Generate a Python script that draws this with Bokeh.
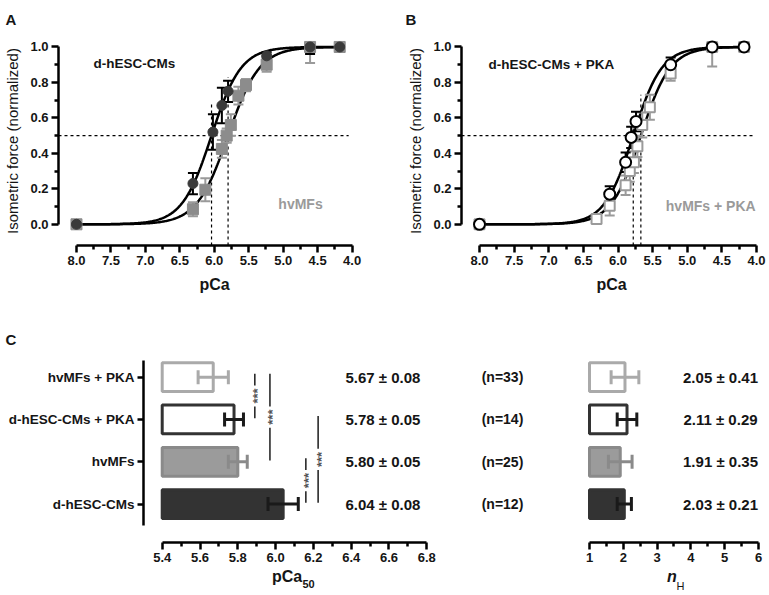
import numpy as np
from bokeh.plotting import figure
from bokeh.models import Range1d, FixedTicker, NumeralTickFormatter, Title
from bokeh.layouts import row, column
from bokeh.core.properties import value
from bokeh.embed import file_html
from bokeh.resources import INLINE

FONT = "Liberation Sans"

# ---------------- data ----------------
# Panel A (no PKA): pCa, normalized force, SEM
a_dh_pca = [8.00, 6.31, 6.02, 5.89, 5.80, 5.24, 4.61, 4.18]
a_dh_force = [0.00, 0.23, 0.52, 0.67, 0.75, 0.95, 1.00, 1.00]
a_dh_sem = [0.00, 0.06, 0.10, 0.10, 0.06, 0.02, 0.04, 0.00]
a_hv_pca = [8.00, 6.31, 6.13, 5.89, 5.82, 5.76, 5.65, 5.54, 5.24, 4.61, 4.18]
a_hv_force = [0.00, 0.085, 0.195, 0.425, 0.50, 0.56, 0.725, 0.785, 0.90, 1.00, 1.00]
a_hv_sem = [0.00, 0.04, 0.065, 0.05, 0.04, 0.06, 0.05, 0.035, 0.04, 0.09, 0.00]

# Panel B (+ PKA)
b_dh_pca = [8.00, 6.12, 5.89, 5.81, 5.74, 5.24, 4.64, 4.18]
b_dh_force = [0.00, 0.17, 0.35, 0.49, 0.58, 0.90, 1.00, 1.00]
b_dh_sem = [0.00, 0.045, 0.055, 0.06, 0.055, 0.04, 0.02, 0.00]
b_hv_pca = [8.00, 6.31, 6.12, 5.89, 5.83, 5.77, 5.72, 5.65, 5.54, 5.24, 4.64, 4.18]
b_hv_force = [0.00, 0.03, 0.105, 0.22, 0.30, 0.35, 0.44, 0.56, 0.66, 0.85, 1.00, 1.00]
b_hv_sem = [0.00, 0.02, 0.055, 0.055, 0.06, 0.06, 0.06, 0.07, 0.07, 0.04, 0.11, 0.00]

# Panel C (bottom row first)
groups = ["d-hESC-CMs", "hvMFs", "d-hESC-CMs + PKA", "hvMFs + PKA"]
pca50 = [6.04, 5.80, 5.78, 5.67]
pca50_sem = [0.08, 0.05, 0.05, 0.08]
hill_n = [2.03, 1.91, 2.11, 2.05]
hill_n_sem = [0.21, 0.35, 0.29, 0.41]
n_cells = [12, 25, 14, 33]

# tops of the dashed pCa50 guide lines
a_guide_top = [0.675, 0.83]
b_guide_top = [0.58, 0.73]

# significance brackets (***) between groups
sig_from = [2, 1, 0, 0]
sig_to = [3, 3, 1, 2]
sig_x = [5.89, 5.97, 6.16, 6.225]

# tick values
force_ticks = [0.0, 0.2, 0.4, 0.6, 0.8, 1.0]
force_minor = [0.1, 0.3, 0.5, 0.7, 0.9]
pca_ticks = [8.0, 7.5, 7.0, 6.5, 6.0, 5.5, 5.0, 4.5, 4.0]
pca_minor = [7.75, 7.25, 6.75, 6.25, 5.75, 5.25, 4.75, 4.25]
p50_ticks = [5.4, 5.6, 5.8, 6.0, 6.2, 6.4, 6.6, 6.8]
p50_minor = [5.5, 5.7, 5.9, 6.1, 6.3, 6.5, 6.7]
nh_ticks = [1, 2, 3, 4, 5, 6]
nh_minor = [1.5, 2.5, 3.5, 4.5, 5.5]

# ---------------- styles ----------------
DARK = "#3a3a3a"
GRAY = "#8c8c8c"
LGRAY = "#9a9a9a"
TXT = "#151515"
bar_fill = ["#333333", "#9b9b9b", "white", "white"]
bar_line = ["#333333", "#8a8a8a", "#333333", "#aaaaaa"]
err_col = ["#1a1a1a", "#8a8a8a", "#1a1a1a", "#aaaaaa"]


def style(p):
    for ax in p.axis:
        ax.axis_line_width = 2.5
        ax.axis_line_color = "black"
        ax.major_tick_line_width = 2.5
        ax.minor_tick_line_width = 2.5
        ax.major_tick_line_color = "black"
        ax.minor_tick_line_color = "black"
        ax.major_tick_out = 7
        ax.major_tick_in = 0
        ax.minor_tick_out = 4
        ax.minor_tick_in = 0
        ax.major_label_text_font = FONT
        ax.major_label_text_font_style = "bold"
        ax.major_label_text_font_size = "13px"
        ax.major_label_text_color = TXT
        ax.major_label_standoff = 3
        ax.axis_label_text_font = FONT
        ax.axis_label_text_color = TXT
    p.grid.visible = False
    p.outline_line_color = None
    p.background_fill_color = "white"
    p.border_fill_color = "white"


def letter(p, t, offset, standoff):
    p.title.text = t
    p.title.align = "left"
    p.title.offset = offset
    p.title.standoff = standoff
    p.title.text_font = FONT
    p.title.text_font_size = "15px"
    p.title.text_font_style = "bold"
    p.title.text_color = TXT


def subscript(p, t, offset, standoff, font_style="bold"):
    p.add_layout(Title(text=t, align="left", vertical_align="top", offset=offset,
                       standoff=standoff, text_font=FONT, text_font_size="11px",
                       text_font_style=font_style, text_color=TXT), "below")


def txt(p, x, y, t, size, color=TXT, align="left", style_="bold", **kw):
    p.text(x=x, y=y, text=t, text_font=value(FONT), text_font_size=size,
           text_font_style=style_, text_color=color, text_align=align,
           text_baseline="middle", **kw)


def errbars_v(p, x, y, e, color, cap, lw):
    x = np.asarray(x, float)
    y = np.asarray(y, float)
    e = np.asarray(e, float)
    lo = y - e
    hi = np.minimum(y + e, 1.0)
    p.segment(x0=x, y0=lo, x1=x, y1=hi, line_color=color, line_width=lw)
    p.scatter(x=np.r_[x, x], y=np.r_[lo, hi], marker="dash", size=cap,
              line_color=color, line_width=lw)


def hill(xs, p50, n):
    return 1.0 / (1.0 + 10 ** (n * (xs - p50)))


TOP_H = 310
Y0, Y1 = -0.1195, 1.059


def sigmoid_panel(width, left, right, x0, x1, let, let_off, dh, hv, fit_idx,
                  guide_top, pka, dh_text, hv_text, dh_text_x, hv_text_x, dh_text_y, hv_text_y):
    p = figure(width=width, height=TOP_H, x_range=Range1d(x0, x1), y_range=Range1d(Y0, Y1),
               output_backend="svg", toolbar_location=None,
               min_border_left=left, min_border_right=right, min_border_top=35,
               min_border_bottom=TOP_H - 35 - 210)
    style(p)
    letter(p, let, let_off, 17)
    p.xaxis.bounds = (4.0, 8.0)
    p.yaxis.bounds = (0.0, 1.0)
    p.xaxis.ticker = FixedTicker(ticks=pca_ticks, minor_ticks=pca_minor)
    p.yaxis.ticker = FixedTicker(ticks=force_ticks, minor_ticks=force_minor)
    p.xaxis.formatter = NumeralTickFormatter(format="0.0")
    p.yaxis.formatter = NumeralTickFormatter(format="0.0")
    p.xaxis.axis_label = "pCa"
    p.xaxis.axis_label_text_font_style = "bold"
    p.xaxis.axis_label_text_font_size = "16px"
    p.xaxis.axis_label_standoff = 8
    p.yaxis.axis_label = "Isometric force (normalized)"
    p.yaxis.axis_label_text_font_style = "normal"
    p.yaxis.axis_label_text_font_size = "15px"
    p.yaxis.axis_label_standoff = 6

    # guides
    p50s = [pca50[i] for i in fit_idx]
    p.segment(x0=[x0], y0=[0.5], x1=[4.05], y1=[0.5], line_color="black",
              line_width=1.2, line_dash="3 3")
    p.segment(x0=p50s, y0=[Y0] * 2, x1=p50s, y1=guide_top, line_color="black",
              line_width=1.2, line_dash="3 3")

    # fitted Hill curves
    for (pc, _, _), i in zip([dh, hv], fit_idx):
        xs = np.linspace(max(pc), min(pc), 300)
        p.line(xs, hill(xs, pca50[i], hill_n[i]), line_color="black", line_width=2.5)

    hx, hy, he = hv
    dx, dy, de = dh
    errbars_v(p, hx, hy, he, LGRAY, 10, 2)
    errbars_v(p, dx, dy, de, "black", 10, 2)
    if pka:
        p.scatter(hx, hy, marker="square", size=10, fill_color="white",
                  line_color=LGRAY, line_width=2)
        p.scatter(dx, dy, marker="circle", size=11, fill_color="white",
                  line_color="black", line_width=2)
    else:
        p.scatter(hx, hy, marker="square", size=11, fill_color=GRAY,
                  line_color=GRAY, line_width=1)
        p.scatter(dx, dy, marker="circle", size=10, fill_color=DARK,
                  line_color=DARK, line_width=1)

    txt(p, [dh_text_x], [dh_text_y], [dh_text], "13.5px")
    txt(p, [hv_text_x], [hv_text_y], [hv_text], "14px", color=LGRAY)
    return p


pA = sigmoid_panel(380, 58, 10, 8.261, 3.733, "A", -53,
                   (a_dh_pca, a_dh_force, a_dh_sem), (a_hv_pca, a_hv_force, a_hv_sem),
                   [0, 1], a_guide_top, False,
                   groups[0], groups[1], 7.753, 5.07, 0.905, 0.116)
pB = sigmoid_panel(388, 81, 7, 8.26, 3.928, "B", -56,
                   (b_dh_pca, b_dh_force, b_dh_sem), (b_hv_pca, b_hv_force, b_hv_sem),
                   [2, 3], b_guide_top, True,
                   groups[2], groups[3], 7.87, 5.31, 0.90, 0.105)

# ---------------- Panel C ----------------
BOT_H = 284
C_TOP, C_BOT = 44, 52
CY0, CY1 = -0.91, 3.537
rows = list(range(len(groups)))
BAR_H = 0.68

# left: pCa50 bars (frame 143..430 px)
pC1 = figure(width=440, height=BOT_H, x_range=Range1d(5.301, 6.8196), y_range=Range1d(CY0, CY1),
             output_backend="svg", toolbar_location=None,
             min_border_left=143, min_border_right=10, min_border_top=C_TOP,
             min_border_bottom=C_BOT)
style(pC1)
letter(pC1, "C", -138, 14)
pC1.xaxis.bounds = (5.4, 6.8)
pC1.xaxis.ticker = FixedTicker(ticks=p50_ticks, minor_ticks=p50_minor)
pC1.xaxis.formatter = NumeralTickFormatter(format="0.0")
pC1.xaxis.axis_label = "pCa"
pC1.xaxis.axis_label_text_font_style = "bold"
pC1.xaxis.axis_label_text_font_size = "16px"
pC1.xaxis.axis_label_standoff = 3
pC1.yaxis.bounds = (-0.5, 3.4)
pC1.yaxis.ticker = FixedTicker(ticks=rows, minor_ticks=[])
pC1.yaxis.major_label_overrides = {r: g for r, g in zip(rows, groups)}
pC1.yaxis.major_label_text_font_size = "13.5px"
pC1.yaxis.major_tick_out = 6
subscript(pC1, "50", 159, -16)

pC1.hbar(y=rows, left=5.4, right=pca50, height=BAR_H, fill_color=bar_fill,
         line_color=bar_line, line_width=3)
lo = [v - e for v, e in zip(pca50, pca50_sem)]
hi = [v + e for v, e in zip(pca50, pca50_sem)]
pC1.segment(x0=lo, y0=rows, x1=hi, y1=rows, line_color=err_col, line_width=3)
pC1.scatter(x=lo + hi, y=rows + rows, marker="dash", angle=np.pi / 2, size=14,
            line_color=err_col + err_col, line_width=3)

# significance lines with rotated ***
GAP = 0.25
for xs_, r0, r1 in zip(sig_x, sig_from, sig_to):
    y0 = r0 + 0.03
    y1 = r1 + 0.08
    yc = (y0 + y1) / 2
    pC1.segment(x0=[xs_, xs_], y0=[y0, yc + GAP], x1=[xs_, xs_], y1=[yc - GAP, y1],
                line_color="#2a2a2a", line_width=1.6)
    txt(pC1, [xs_], [yc], ["***"], "13px", color="#555555", align="center",
        angle=np.pi / 2, x_offset=3)

txt(pC1, [6.568] * 4, rows, [f"{v:.2f} \u00b1 {e:.2f}" for v, e in zip(pca50, pca50_sem)],
    "15px", align="center")

# middle: cell counts
pCm = figure(width=130, height=BOT_H, x_range=Range1d(0, 1), y_range=Range1d(CY0, CY1),
             output_backend="svg", toolbar_location=None, x_axis_location=None,
             y_axis_location=None, min_border_left=0, min_border_right=0,
             min_border_top=C_TOP, min_border_bottom=C_BOT)
style(pCm)
txt(pCm, [0.477] * 4, rows, [f"(n={n})" for n in n_cells], "14px", align="center")

# right: Hill coefficient bars
pC2 = figure(width=198, height=BOT_H, x_range=Range1d(0.586, 6.296), y_range=Range1d(CY0, CY1),
             output_backend="svg", toolbar_location=None, y_axis_location=None,
             min_border_left=5, min_border_right=0, min_border_top=C_TOP,
             min_border_bottom=C_BOT)
style(pC2)
pC2.xaxis.bounds = (1, 6)
pC2.xaxis.ticker = FixedTicker(ticks=nh_ticks, minor_ticks=nh_minor)
pC2.xaxis.formatter = NumeralTickFormatter(format="0")
pC2.xaxis.axis_label = "n"
pC2.xaxis.axis_label_text_font_style = "bold italic"
pC2.xaxis.axis_label_text_font_size = "16px"
pC2.xaxis.axis_label_standoff = 3
subscript(pC2, "H", 101, -16, "normal")
pC2.hbar(y=rows, left=1, right=hill_n, height=BAR_H, fill_color=bar_fill,
         line_color=bar_line, line_width=3)
lo2 = [v - e for v, e in zip(hill_n, hill_n_sem)]
hi2 = [v + e for v, e in zip(hill_n, hill_n_sem)]
pC2.segment(x0=lo2, y0=rows, x1=hi2, y1=rows, line_color=err_col, line_width=3)
pC2.scatter(x=lo2 + hi2, y=rows + rows, marker="dash", angle=np.pi / 2, size=14,
            line_color=err_col + err_col, line_width=3)
txt(pC2, [4.876] * 4, rows, [f"{v:.2f} \u00b1 {e:.2f}" for v, e in zip(hill_n, hill_n_sem)],
    "15px", align="center")

layout = column(row(pA, pB), row(pC1, pCm, pC2))
open("out.html", "w").write(file_html(layout, INLINE, title="pCa"))
